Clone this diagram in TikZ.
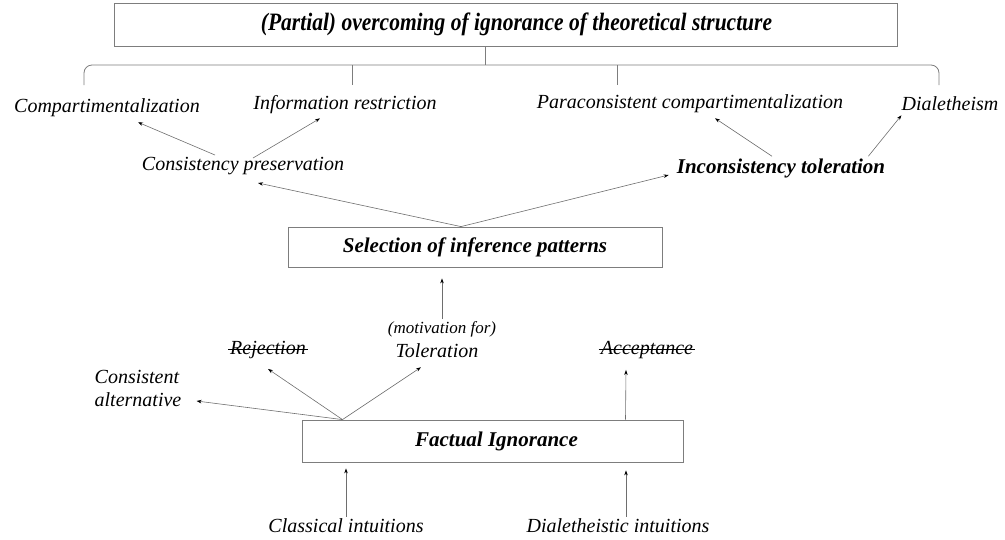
\documentclass[tikz,border=0pt]{standalone}
\usepackage{fontspec}
\setmainfont{Liberation Serif}
\usepackage{graphicx}
\usetikzlibrary{arrows.meta}

\definecolor{linegray}{RGB}{110,110,110}
\definecolor{boxgray}{RGB}{125,125,125}

\begin{document}
\begin{tikzpicture}[x=1pt, y=-1pt,
  txt/.style={font=\fontsize{20}{23}\selectfont\itshape, inner sep=2pt},
  bld/.style={font=\fontsize{21}{23}\selectfont\bfseries\itshape, inner sep=2pt},
  box/.style={draw=boxgray, line width=0.8pt},
  arr/.style={draw=linegray, line width=0.6pt, -{Stealth[length=5pt,width=3.5pt,black]}},
  strike/.style={line width=1.8pt, black}]
\useasboundingbox (0,0) rectangle (1005,539);
% top box and brace
\node[box, bld, minimum width=783, minimum height=43] (top) at (505.5,24.5)
  {\hspace{22pt}\scalebox{0.86}[1]{\fontsize{25}{27}\selectfont (Partial) overcoming of ignorance of theoretical structure}};
\coordinate (br) at (485,65);
\draw[boxgray, line width=0.8pt] (top.south -| br) -- (br);
\draw[boxgray, line width=0.8pt, rounded corners=8pt] (84,85) |- (939,65) -- (939,85);
\draw[boxgray, line width=0.8pt] (352,65) -- (352,85);
\draw[boxgray, line width=0.8pt] (617,65) -- (617,85);
% upper labels
\node[txt] (comp) at (107,108) {Compartimentalization};
\node[txt] (inforestr) at (345,105) {Information restriction};
\node[txt] (paracomp) at (690,104) {Paraconsistent compartimentalization};
\node[txt] (dialeth) at (950,104) {Dialetheism};
\node[txt] (conspres) at (243,166) {Consistency preservation};
\node[bld] (incontol) at (781,168) {Inconsistency toleration};
\node[box, bld, minimum width=374, minimum height=40] (sel) at (475,247) {Selection of inference patterns};
% lower labels
\node[font=\fontsize{17}{19}\selectfont\itshape, inner sep=2pt] (motiv) at (442,329) {(motivation for)};
\node[txt] (tol) at (437,351) {Toleration};
\node[txt] (rej) at (268,350) {Rejection};
\node[txt] (acc) at (647,350) {Acceptance};
\node[txt, align=left] (consalt) at (138,388) {Consistent\\alternative};
\node[box, bld, minimum width=381, minimum height=42] (fact) at (492.5,441) {\hspace{8pt}Factual Ignorance};
\node[txt] (clint) at (346,526) {Classical intuitions};
\node[txt] (dint) at (618,526) {Dialetheistic intuitions};
% strike outs
\draw[strike] ([yshift=0.5pt]rej.west) -- ([yshift=0.5pt]rej.east);
\draw[strike] ([yshift=0.5pt]acc.west) -- ([yshift=0.5pt]acc.east);
% arrows
\draw[arr] ([xshift=-28pt]conspres.north) -- ([shift={(31pt,-3pt)}]comp.south);
\draw[arr] ([shift={(10pt,-3pt)}]conspres.north) -- ([shift={(-25pt,-2pt)}]inforestr.south);
\draw[arr] ([xshift=-9pt]incontol.north) -- ([shift={(25pt,-3pt)}]paracomp.south);
\draw[arr] ([xshift=-19pt]incontol.north east) -- ([shift={(2pt,-2pt)}]dialeth.south west);
\coordinate (so) at ([xshift=-14pt]sel.north);
\draw[arr] (so) -- ([shift={(15pt,-6pt)}]conspres.south);
\draw[arr] (so) -- ([shift={(-6pt,-7pt)}]incontol.west);
\draw[arr, shorten >=11pt] (motiv.north) -- (motiv.north |- sel.south);
\coordinate (fo) at ([xshift=-150pt]fact.north);
\draw[arr] (fo) -- ([shift={(13pt,-13pt)}]consalt.east);
\draw[arr] (fo) -- ([yshift=-8pt]rej.south);
\draw[arr] (fo) -- ([shift={(-16pt,-7pt)}]tol.south);
\draw[arr] ([xshift=133pt]fact.north) -- ([shift={(-21pt,-9pt)}]acc.south);
\draw[arr, shorten >=6pt] (clint.north) -- (clint.north |- fact.south);
\draw[arr, shorten >=8pt] ([xshift=8pt]dint.north) -- ([xshift=8pt]dint.north |- fact.south);
\end{tikzpicture}
\end{document}
